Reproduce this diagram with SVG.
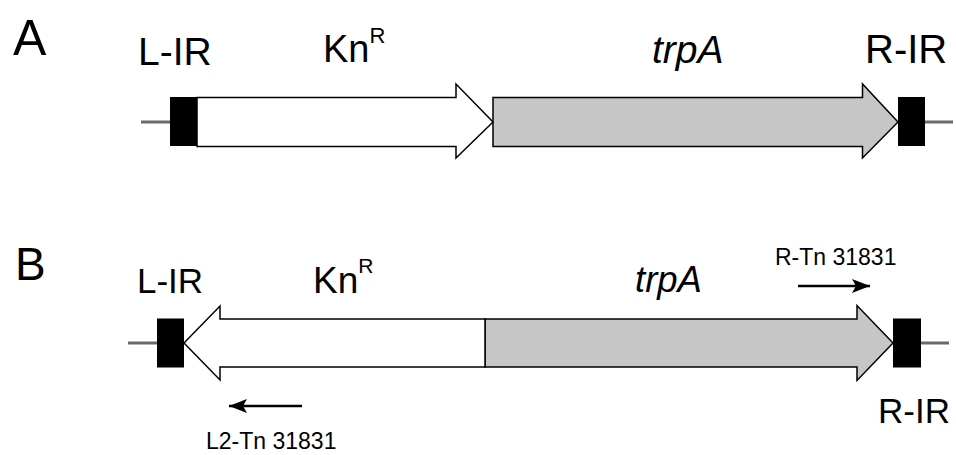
<svg xmlns="http://www.w3.org/2000/svg" width="956" height="455" viewBox="0 0 956 455">
  <style>
    text { font-family: "Liberation Sans", Arial, sans-serif; fill: #000; }
    .it { font-style: italic; }
    .backbone { stroke: #6a6a6a; stroke-width: 3; fill: none; }
    .ir { fill: #000; }
    .kn { fill: #fff; stroke: #000; stroke-width: 1.5; stroke-linejoin: miter; }
    .trp { fill: #c6c6c6; stroke: #000; stroke-width: 1.5; stroke-linejoin: miter; }
    .primer { stroke: #000; stroke-width: 2.5; fill: none; marker-end: url(#head); }
  </style>
  <defs>
    <marker id="head" markerUnits="userSpaceOnUse" markerWidth="20" markerHeight="16" refX="18" refY="7" orient="auto">
      <path d="M0,0 L18,7 L0,14 L4,7 Z" fill="#000"/>
    </marker>
  </defs>

  <rect width="956" height="455" fill="#fff"/>

  <!-- Panel A -->
  <g id="panelA-label"><text x="13" y="55" font-size="50">A</text></g>

  <g id="connectors">
    <!-- flanking DNA -->
    <line class="backbone" x1="141" y1="122" x2="171" y2="122"/>
    <line class="backbone" x1="924" y1="122" x2="953" y2="122"/>
    <line class="backbone" x1="128" y1="343" x2="158" y2="343"/>
    <line class="backbone" x1="920" y1="343" x2="949" y2="343"/>
    <!-- primers -->
    <line class="primer" x1="798" y1="286" x2="870" y2="286"/>
    <line class="primer" x1="302" y1="406" x2="229" y2="406"/>
  </g>

  <g id="A-trpA">
    <polygon class="trp" points="493,97.5 862.5,97.5 862.5,84 898,122 862.5,158 862.5,146.5 493,146.5"/>
    <text class="it" x="652" y="63" font-size="39">trpA</text>
  </g>
  <g id="A-KnR">
    <polygon class="kn" points="197,97.5 456,97.5 456,84 493,122 456,158 456,146.5 197,146.5"/>
    <text x="323" y="62" font-size="38">Kn<tspan font-size="22" dy="-19">R</tspan></text>
  </g>
  <g id="A-LIR">
    <rect class="ir" x="170" y="97" width="27" height="49"/>
    <text x="138" y="65" font-size="39">L-IR</text>
  </g>
  <g id="A-RIR">
    <rect class="ir" x="898" y="97" width="27" height="49"/>
    <text x="865" y="63" font-size="40">R-IR</text>
  </g>

  <!-- Panel B -->
  <g id="panelB-label"><text x="15" y="280" font-size="46">B</text></g>

  <g id="B-trpA">
    <polygon class="trp" points="485,319 857,319 857,305.5 893,343 857,380.5 857,367 485,367"/>
    <text class="it" x="635" y="292" font-size="36.5">trpA</text>
  </g>
  <g id="B-KnR">
    <polygon class="kn" points="184,343 220,306 220,319 485,319 485,367 220,367 220,380"/>
    <text x="313" y="293" font-size="37">Kn<tspan font-size="21" dy="-20">R</tspan></text>
  </g>
  <g id="B-LIR">
    <rect class="ir" x="157" y="318.5" width="27" height="49"/>
    <text x="137" y="293" font-size="35">L-IR</text>
  </g>
  <g id="B-RIR">
    <rect class="ir" x="893" y="318.5" width="28" height="49"/>
    <text x="878" y="423" font-size="35">R-IR</text>
  </g>
  <g id="primer-R">
    <text x="775" y="265" font-size="23">R-Tn 31831</text>
  </g>
  <g id="primer-L2">
    <text x="206" y="449" font-size="23">L2-Tn 31831</text>
  </g>
</svg>
